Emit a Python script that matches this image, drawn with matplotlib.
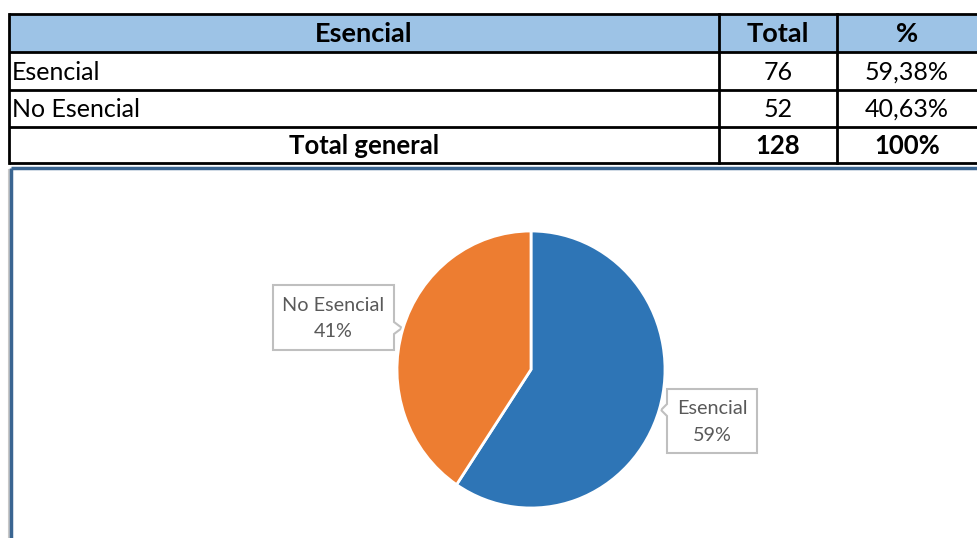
import matplotlib.pyplot as plt
from matplotlib.patches import Rectangle, Polygon

# data
categories = ["Esencial", "No Esencial"]
totals = [76, 52]
pct_labels = ["59,38%", "40,63%"]
header = ["Esencial", "Total", "%"]
total_row = ["Total general", "128", "100%"]

BLUE = "#2E75B6"
ORANGE = "#ED7D31"
HEAD = "#9DC3E6"
GREY_TXT = "#595959"

plt.rcParams["font.family"] = ["Lato", "DejaVu Sans"]

W, H = 977, 538
fig = plt.figure(figsize=(W / 100, H / 100), dpi=100)
fig.patch.set_facecolor("white")

# background axes in pixel coords (y downwards)
bg = fig.add_axes([0, 0, 1, 1])
bg.set_xlim(0, W)
bg.set_ylim(H, 0)
bg.axis("off")

# ---- table ----
col_x = [9, 719, 837, 977]
row_y = [14, 52, 90, 127, 163]
bg.add_patch(Rectangle((col_x[0], row_y[0]), W - col_x[0], row_y[1] - row_y[0],
                       facecolor=HEAD, edgecolor="none", zorder=1))
for y in row_y:
    bg.plot([col_x[0], W], [y, y], color="black", lw=2, zorder=3, solid_capstyle="butt")
bg.plot([col_x[0], col_x[0]], [row_y[0], row_y[-1]], color="black", lw=2, zorder=3)
for x in col_x[1:3]:
    bg.plot([x, x], [row_y[0], row_y[-1]], color="black", lw=2, zorder=3)

fs = 18
fsb = 19.5
centers = [(col_x[i] + col_x[i + 1]) / 2 for i in range(3)]
ymid = [(row_y[i] + row_y[i + 1]) / 2 + 1 for i in range(4)]

for i, h in enumerate(header):
    bg.text(centers[i], ymid[0], h, ha="center", va="center", fontsize=fsb,
            fontweight="bold", color="black")
for r, (cat, tot, pl) in enumerate(zip(categories, totals, pct_labels)):
    yy = ymid[r + 1]
    bg.text(col_x[0] + 3, yy, cat, ha="left", va="center", fontsize=fs, color="black")
    bg.text(centers[1], yy, str(tot), ha="center", va="center", fontsize=fs, color="black")
    bg.text(centers[2], yy, pl, ha="center", va="center", fontsize=fs, color="black")
for i, t in enumerate(total_row):
    bg.text(centers[i], ymid[3], t, ha="center", va="center", fontsize=fsb - 1,
            fontweight="bold", color="black")

# ---- chart frame ----
bg.plot([8.5, 8.5], [170, H], color="#C8C8C8", lw=1.5, zorder=2)
bg.plot([11, 11], [168, H], color="#3A6591", lw=2.5, zorder=3, solid_capstyle="butt")
bg.plot([11, W], [168, 168], color="#3A6591", lw=2.5, zorder=3, solid_capstyle="butt")

# ---- pie ----
cx, cy, rx, ry = 531, 369.5, 134, 138.5
pax = fig.add_axes([(cx - rx) / W, (H - cy - ry) / H, 2 * rx / W, 2 * ry / H])
pax.pie(totals, colors=[BLUE, ORANGE], startangle=90, counterclock=False,
        wedgeprops=dict(edgecolor="white", linewidth=2))
pax.set_aspect("auto")
pax.set_xlim(-1, 1)
pax.set_ylim(-1, 1)
pax.axis("off")

# ---- callout labels ----
total = sum(totals)


def callout(x0, y0, x1, y1, tip, side, text):
    tx, ty = tip
    if side == "right":
        pts = [(x0, y0), (x1, y0), (x1, ty - 6), (tx, ty), (x1, ty + 6), (x1, y1), (x0, y1)]
    else:
        pts = [(x0, y0), (x1, y0), (x1, y1), (x0, y1), (x0, ty + 6), (tx, ty), (x0, ty - 6)]
    bg.add_patch(Polygon(pts, closed=True, facecolor="white", edgecolor="#BFBFBF",
                         lw=1.5, zorder=5))
    bg.text((x0 + x1) / 2, (y0 + y1) / 2 + 1, text, ha="center", va="center",
            fontsize=14.3, color=GREY_TXT, linespacing=1.7, zorder=6)


lab = [f"{c}\n{round(100 * t / total)}%" for c, t in zip(categories, totals)]
callout(667, 389, 757, 453, (661, 410), "left", lab[0])
callout(273, 285, 394, 350, (402, 328), "right", lab[1])

fig.savefig("out.png", dpi=100, facecolor="white")
